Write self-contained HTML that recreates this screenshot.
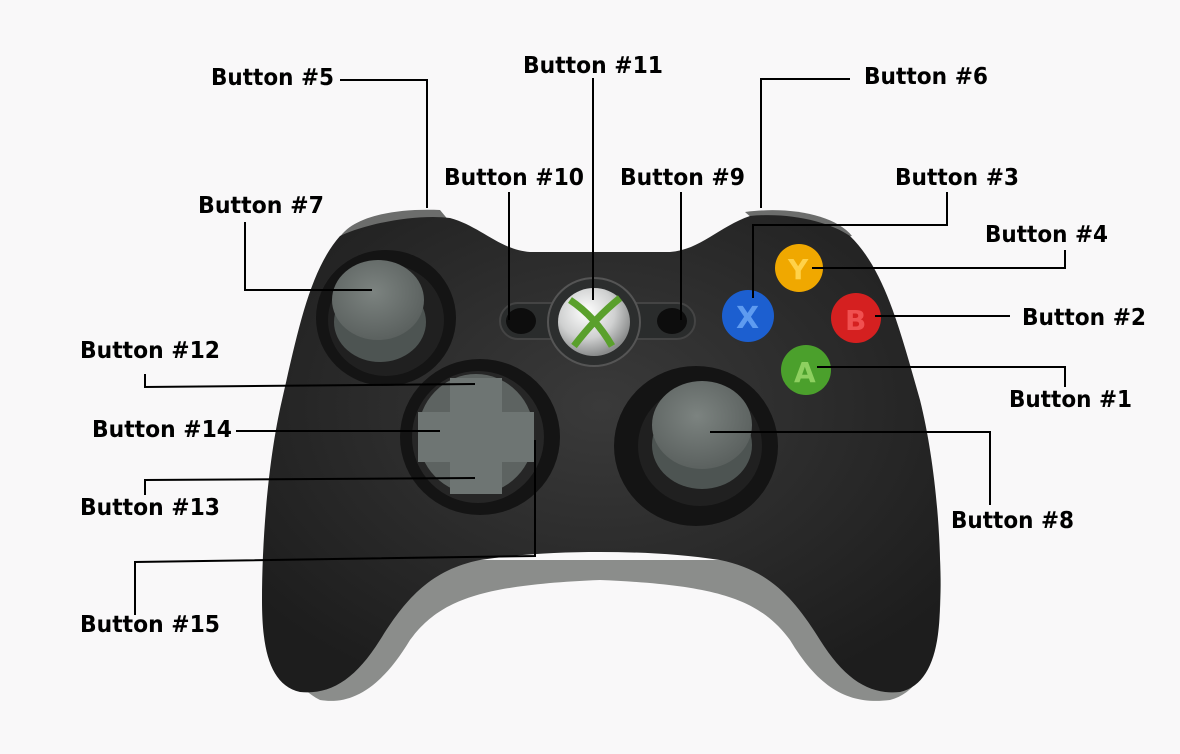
<!DOCTYPE html>
<html><head><meta charset="utf-8"><style>
html,body{margin:0;padding:0;background:#f9f8f9;}
svg{display:block}
text{font-family:"DejaVu Sans","Liberation Sans",sans-serif;font-weight:bold;font-size:23px;fill:#000}
</style></head><body>
<svg width="1180" height="754" viewBox="0 0 1180 754" xmlns="http://www.w3.org/2000/svg">
<defs>
<radialGradient id="cap" cx="45%" cy="40%" r="60%"><stop offset="0" stop-color="#7c8380"/><stop offset="1" stop-color="#5b615f"/></radialGradient>
<radialGradient id="guide" cx="40%" cy="35%" r="65%"><stop offset="0" stop-color="#ffffff"/><stop offset="0.6" stop-color="#cfd0d0"/><stop offset="1" stop-color="#8a8c8c"/></radialGradient>
<radialGradient id="body" cx="50%" cy="40%" r="65%"><stop offset="0" stop-color="#3a3a3a"/><stop offset="1" stop-color="#1d1d1d"/></radialGradient>
</defs>
<rect width="1180" height="754" fill="#f9f8f9"/>
<!-- shoulders -->
<path d="M338,240 C350,218 390,208 440,210 L450,222 L380,232 Z" fill="#6c6d6c"/>
<path d="M745,212 C790,206 835,215 852,236 L830,238 L760,225 Z" fill="#6c6d6c"/>
<!-- grey bottom trim -->
<path d="M272,560 C268,620 280,680 320,700 C350,705 380,690 410,640 C440,600 480,585 600,580 C720,585 760,600 790,640 C820,690 850,705 890,700 C930,690 945,630 940,560 Z" fill="#8b8d8b"/>
<!-- body -->
<path d="M340,236 C370,222 420,214 450,218 C480,226 500,250 530,252 L670,252 C700,250 720,226 750,216 C790,212 830,222 850,236 C885,270 900,330 920,400 C935,460 942,540 940,600 C940,650 930,685 900,692 C870,695 845,680 820,640 C795,600 770,570 720,560 C680,554 640,552 600,552 C560,552 520,554 480,560 C430,570 405,600 380,640 C355,680 330,695 300,692 C270,685 262,650 262,600 C262,540 268,460 282,400 C298,330 310,270 340,236 Z" fill="url(#body)"/>
<!-- left stick -->
<ellipse cx="386" cy="318" rx="70" ry="68" fill="#141414"/>
<ellipse cx="386" cy="320" rx="58" ry="56" fill="#202020"/>
<ellipse cx="380" cy="322" rx="46" ry="40" fill="#4d5452"/>
<ellipse cx="378" cy="300" rx="46" ry="40" fill="url(#cap)"/>
<!-- dpad -->
<ellipse cx="480" cy="437" rx="80" ry="78" fill="#141414"/>
<ellipse cx="478" cy="437" rx="66" ry="66" fill="#262626"/>
<ellipse cx="476" cy="434" rx="58" ry="60" fill="#5d6361"/>
<path d="M450,378 L502,378 L502,412 L534,412 L534,462 L502,462 L502,494 L450,494 L450,462 L418,462 L418,412 L450,412 Z" fill="#6e7573"/>
<!-- right stick -->
<ellipse cx="696" cy="446" rx="82" ry="80" fill="#141414"/>
<ellipse cx="700" cy="446" rx="62" ry="60" fill="#202020"/>
<ellipse cx="702" cy="445" rx="50" ry="44" fill="#4d5452"/>
<ellipse cx="702" cy="425" rx="50" ry="44" fill="url(#cap)"/>
<!-- center strip -->
<rect x="500" y="303" width="195" height="36" rx="18" fill="#2a2c2c" stroke="#444" stroke-width="2"/>
<ellipse cx="594" cy="322" rx="46" ry="44" fill="#2c2e2e" stroke="#555" stroke-width="2"/>
<ellipse cx="594" cy="322" rx="36" ry="34" fill="url(#guide)"/>
<path d="M570,300 C585,310 600,325 612,346 M620,298 C605,310 590,325 574,346" stroke="#5aa02c" stroke-width="7" fill="none"/>
<ellipse cx="521" cy="321" rx="15" ry="13" fill="#0d0d0d"/>
<ellipse cx="672" cy="321" rx="15" ry="13" fill="#0d0d0d"/>
<!-- face buttons -->
<circle cx="748" cy="316" r="26" fill="#1c5fd0"/><text x="736" y="328" style="font-size:30px;fill:#5e9bf0">X</text>
<circle cx="799" cy="268" r="24" fill="#f0a800"/><text x="788" y="279" style="font-size:28px;fill:#ffd24a">Y</text>
<circle cx="856" cy="318" r="25" fill="#d52020"/><text x="845" y="330" style="font-size:28px;fill:#f05050">B</text>
<circle cx="806" cy="370" r="25" fill="#4ba02c"/><text x="794" y="382" style="font-size:28px;fill:#8ed060">A</text>
<!-- connectors -->
<g stroke="#000" stroke-width="2" fill="none">
<polyline points="340,80 427,80 427,208"/>
<line x1="593" y1="78" x2="593" y2="300"/>
<polyline points="850,79 761,79 761,208"/>
<line x1="509" y1="192" x2="509" y2="320"/>
<line x1="681" y1="192" x2="681" y2="320"/>
<polyline points="947,192 947,225 753,225 753,298"/>
<polyline points="245,222 245,290 372,290"/>
<polyline points="1065,250 1065,268 812,268"/>
<line x1="875" y1="316" x2="1010" y2="316"/>
<polyline points="1065,387 1065,367 817,367"/>
<polyline points="145,374 145,387 475,384"/>
<line x1="236" y1="431" x2="440" y2="431"/>
<polyline points="145,495 145,480 475,478"/>
<polyline points="135,615 135,562 535,556 535,440"/>
<polyline points="990,505 990,432 710,432"/>
</g>
<!-- labels -->
<text x="211" y="85" textLength="123" lengthAdjust="spacingAndGlyphs">Button #5</text>
<text x="523" y="73" textLength="140" lengthAdjust="spacingAndGlyphs">Button #11</text>
<text x="864" y="84" textLength="124" lengthAdjust="spacingAndGlyphs">Button #6</text>
<text x="444" y="185" textLength="140" lengthAdjust="spacingAndGlyphs">Button #10</text>
<text x="620" y="185" textLength="125" lengthAdjust="spacingAndGlyphs">Button #9</text>
<text x="895" y="185" textLength="124" lengthAdjust="spacingAndGlyphs">Button #3</text>
<text x="198" y="213" textLength="126" lengthAdjust="spacingAndGlyphs">Button #7</text>
<text x="985" y="242" textLength="123" lengthAdjust="spacingAndGlyphs">Button #4</text>
<text x="1022" y="325" textLength="124" lengthAdjust="spacingAndGlyphs">Button #2</text>
<text x="80" y="358" textLength="140" lengthAdjust="spacingAndGlyphs">Button #12</text>
<text x="1009" y="407" textLength="123" lengthAdjust="spacingAndGlyphs">Button #1</text>
<text x="92" y="437" textLength="140" lengthAdjust="spacingAndGlyphs">Button #14</text>
<text x="80" y="515" textLength="140" lengthAdjust="spacingAndGlyphs">Button #13</text>
<text x="951" y="528" textLength="123" lengthAdjust="spacingAndGlyphs">Button #8</text>
<text x="80" y="632" textLength="140" lengthAdjust="spacingAndGlyphs">Button #15</text>
</svg>
</body></html>
